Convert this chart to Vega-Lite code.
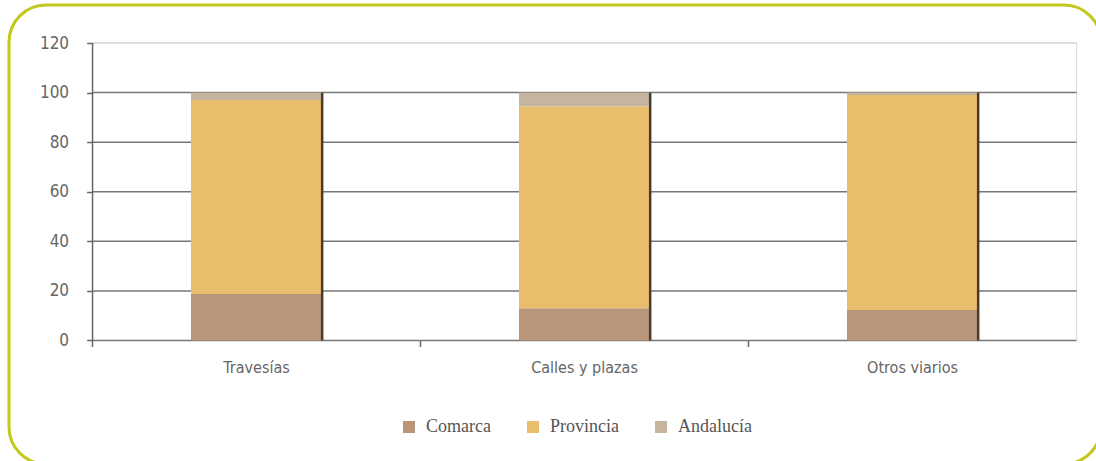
{
  "$schema": "https://vega.github.io/schema/vega-lite/v6.json",
  "width": 1092,
  "height": 459,
  "autosize": {"type": "none"},
  "padding": {"left": 9, "top": 5, "right": -5, "bottom": -3},
  "background": "white",
  "config": {
    "view": {"stroke": "#c3c81c", "strokeWidth": 3, "cornerRadius": 37, "fill": "white"},
    "axis": {"labelFont": "DejaVu Sans Condensed", "labelColor": "#666666", "tickColor": "#666666", "labelFontSize": 16}
  },
  "datasets": {
    "shares": [
      {"cat": "Travesías", "serie": "Comarca", "value": 18.8},
      {"cat": "Travesías", "serie": "Provincia", "value": 78.2},
      {"cat": "Travesías", "serie": "Andalucía", "value": 3},
      {"cat": "Calles y plazas", "serie": "Comarca", "value": 13},
      {"cat": "Calles y plazas", "serie": "Provincia", "value": 81.5},
      {"cat": "Calles y plazas", "serie": "Andalucía", "value": 5.5},
      {"cat": "Otros viarios", "serie": "Comarca", "value": 12.3},
      {"cat": "Otros viarios", "serie": "Provincia", "value": 86.7},
      {"cat": "Otros viarios", "serie": "Andalucía", "value": 1}
    ],
    "grid": [{"v": 0}, {"v": 20}, {"v": 40}, {"v": 60}, {"v": 80}, {"v": 100}, {"v": 120}]
  },
  "resolve": {"axis": {"x": "independent", "y": "independent"}},
  "layer": [
    {
      "data": {"values": [{}]},
      "mark": {"type": "rule", "strokeWidth": 1.2, "color": "#dddddd"},
      "encoding": {
        "x": {"datum": "Otros viarios", "type": "nominal", "bandPosition": 1.75, "axis": null},
        "y": {"datum": 0, "type": "quantitative", "axis": null},
        "y2": {"datum": 120}
      }
    },
    {
      "data": {"name": "grid"},
      "mark": {"type": "rule", "strokeWidth": 1.5},
      "encoding": {
        "y": {
          "field": "v",
          "type": "quantitative",
          "scale": {"domain": [-49.82, 135.33], "nice": false, "zero": false},
          "axis": null
        },
        "x": {"datum": "Travesías", "type": "nominal", "bandPosition": -0.75, "axis": null},
        "x2": {"datum": "Otros viarios", "bandPosition": 1.75},
        "color": {"condition": {"test": "datum.v == 120", "value": "#d2d2d2"}, "value": "#777777"}
      }
    },
    {
      "data": {"name": "shares"},
      "transform": [
        {"calculate": "indexof(['Comarca','Provincia','Andalucía'], datum.serie)", "as": "ord"}
      ],
      "mark": {"type": "bar"},
      "encoding": {
        "x": {
          "field": "cat",
          "type": "nominal",
          "scale": {"domain": ["Travesías", "Calles y plazas", "Otros viarios"], "paddingInner": 0.6, "paddingOuter": 0.4646, "align": 0.597},
          "axis": {
            "orient": "bottom",
            "offset": -123.5,
            "domain": false,
            "bandPosition": -0.75,
            "tickSize": 6,
            "tickWidth": 1.5,
            "labelPadding": 13,
            "labelAngle": 0,
            "title": null
          }
        },
        "y": {
          "aggregate": "sum",
          "field": "value",
          "type": "quantitative",
          "stack": "zero",
          "axis": {
            "orient": "left",
            "offset": -83.6,
            "values": [0, 20, 40, 60, 80, 100, 120],
            "domain": false,
            "grid": false,
            "tickSize": 6,
            "tickWidth": 1.5,
            "labelPadding": 18,
            "labelFontSize": 17,
            "title": null
          }
        },
        "order": {"field": "ord", "type": "quantitative", "sort": "ascending"},
        "color": {
          "field": "serie",
          "type": "nominal",
          "sort": ["Comarca", "Provincia", "Andalucía"],
          "scale": {"domain": ["Comarca", "Provincia", "Andalucía"], "range": ["#b9967a", "#e8be6c", "#c4b4a0"]},
          "legend": {
            "orient": "none",
            "legendX": 391,
            "legendY": 413,
            "direction": "horizontal",
            "title": null,
            "symbolType": "square",
            "symbolSize": 144,
            "symbolStrokeWidth": 0,
            "labelFont": "Liberation Serif",
            "labelFontSize": 18,
            "labelColor": "#555555",
            "columnPadding": 33,
            "labelOffset": 8,
            "padding": 0
          }
        }
      }
    },
    {
      "data": {"name": "shares"},
      "mark": {"type": "rule", "strokeWidth": 2.5, "color": "#4a3b30"},
      "encoding": {
        "x": {"field": "cat", "type": "nominal", "bandPosition": 1, "axis": null},
        "y": {"aggregate": "sum", "field": "value", "type": "quantitative", "axis": null},
        "y2": {"datum": 0}
      }
    },
    {
      "data": {"values": [{}]},
      "mark": {"type": "rule", "strokeWidth": 1.5, "color": "#666666"},
      "encoding": {
        "x": {"datum": "Travesías", "type": "nominal", "bandPosition": -0.75, "axis": null},
        "y": {"datum": 0, "type": "quantitative", "axis": null},
        "y2": {"datum": 120}
      }
    }
  ]
}
